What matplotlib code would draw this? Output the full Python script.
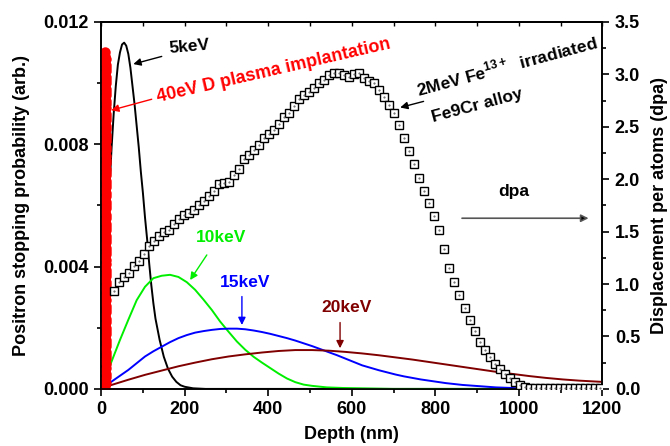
import numpy as np
import matplotlib
matplotlib.use("Agg")
import matplotlib.pyplot as plt
from matplotlib.ticker import MultipleLocator

plt.rcParams['font.family'] = ['Liberation Sans', 'DejaVu Sans']
plt.rcParams['font.weight'] = 'bold'
plt.rcParams['mathtext.fontset'] = 'custom'
plt.rcParams['mathtext.rm'] = 'Liberation Sans:bold'

# ---------------- data ----------------
d5 = [0, 5, 10, 15, 20, 25, 30, 35, 40, 45, 50, 55, 60, 65, 70, 75, 80, 85, 90, 95,
      100, 105, 110, 115, 120, 125, 130, 140, 150, 160, 170, 180, 190, 200, 220, 250, 1200]
p5 = [0.0, 0.0018, 0.0035, 0.0051, 0.0066, 0.0079, 0.0090, 0.0099, 0.0106, 0.0110,
      0.01126, 0.01132, 0.01122, 0.01095, 0.0105, 0.0099, 0.0093, 0.0086, 0.0079, 0.0071,
      0.0064, 0.0056, 0.0049, 0.0041, 0.0034, 0.0028, 0.0023, 0.0016, 0.00105, 0.00066,
      0.0004, 0.00023, 0.00012, 0.00007, 0.00002, 0.0, 0.0]

d10 = [5, 25, 45, 65, 85, 105, 125, 145, 165, 185, 205, 225, 245, 265, 285, 305, 325,
       345, 365, 385, 405, 425, 445, 465, 485, 505, 540, 580, 620, 700, 1000]
p10 = [0.0002, 0.0009, 0.0016, 0.00226, 0.0029, 0.00334, 0.00362, 0.0037, 0.00373,
       0.00366, 0.00349, 0.00324, 0.00292, 0.00258, 0.0022, 0.00187, 0.00155, 0.00128,
       0.00105, 0.00086, 0.00068, 0.0005, 0.00034, 0.00022, 0.00014, 0.0001, 0.00005,
       0.00003, 0.00002, 0.0, 0.0]

d15 = [5, 25, 45, 65, 85, 105, 125, 145, 165, 185, 205, 225, 245, 265, 285, 305, 325,
       345, 365, 385, 405, 425, 445, 465, 485, 505, 525, 545, 565, 585, 605, 625, 645,
       665, 685, 705, 725, 745, 765, 785, 805, 825, 845, 865, 885, 905, 925, 945, 965,
       985, 1000]
p15 = [0.00005, 0.00024, 0.00043, 0.00062, 0.00084, 0.00106, 0.00123, 0.00138, 0.00153,
       0.00166, 0.00176, 0.00184, 0.00189, 0.00193, 0.00196, 0.00197, 0.00197, 0.00195,
       0.00191, 0.00186, 0.0018, 0.00173, 0.00166, 0.00158, 0.00149, 0.0014, 0.0013,
       0.0012, 0.0011, 0.00099, 0.00088, 0.00077, 0.00069, 0.00061, 0.00054, 0.00047,
       0.00041, 0.00036, 0.00031, 0.00027, 0.00023, 0.00019, 0.00016, 0.00013, 0.00011,
       0.00009, 0.00007, 0.00005, 0.00004, 0.00003, 0.00002]

d20 = [5, 25, 65, 105, 145, 185, 225, 265, 305, 345, 385, 425, 465, 505, 545, 585, 625,
       665, 705, 745, 785, 825, 865, 905, 945, 985, 1025, 1065, 1105, 1145, 1200]
p20 = [0.00003, 0.00013, 0.0003, 0.00046, 0.0006, 0.00074, 0.00086, 0.00097, 0.00106,
       0.00113, 0.00119, 0.00124, 0.00127, 0.00127, 0.00125, 0.00121, 0.00116, 0.0011,
       0.00103, 0.00096, 0.00088, 0.0008, 0.00072, 0.00064, 0.00056, 0.00049, 0.00042,
       0.00036, 0.00031, 0.00027, 0.00023]

# 40 eV D plasma implantation profile (red, dense overlapping markers)
red_depth = [10, 11, 10, 12, 11, 10, 11, 12, 10, 11,
             12, 11, 10, 11, 12, 11, 10, 11, 12, 11,
             10, 11, 12, 10, 11, 12, 11, 10, 11, 10,
             12, 11, 10, 11, 12, 10, 11, 12, 11, 10,
             11, 12, 10, 11, 11, 12, 10, 11, 12, 11,
             10, 11, 12, 11, 10, 12, 11, 10, 11, 12,
             11, 10, 11, 12, 10, 11, 12, 11, 10, 11,
             12, 11, 10, 11, 12, 11, 10, 12, 11, 10,
             11, 12, 11, 10, 11, 12, 10, 11, 12, 11,
             10, 11, 12, 11, 10, 11, 12, 11, 10, 11,
             12, 11, 10, 11, 12, 11, 10, 11, 10, 10]
red_prob = [0.0001, 0.0002, 0.0003, 0.0004, 0.0005, 0.0006, 0.0007, 0.0008, 0.0009, 0.0010,
            0.0011, 0.0012, 0.0013, 0.0014, 0.0015, 0.0016, 0.0017, 0.0018, 0.0019, 0.0020,
            0.0021, 0.0022, 0.0023, 0.0024, 0.0025, 0.0026, 0.0027, 0.0028, 0.0029, 0.0030,
            0.0031, 0.0032, 0.0033, 0.0034, 0.0035, 0.0036, 0.0037, 0.0038, 0.0039, 0.0040,
            0.0041, 0.0042, 0.0043, 0.0044, 0.0045, 0.0046, 0.0047, 0.0048, 0.0049, 0.0050,
            0.0051, 0.0052, 0.0053, 0.0054, 0.0055, 0.0056, 0.0057, 0.0058, 0.0059, 0.0060,
            0.0061, 0.0062, 0.0063, 0.0064, 0.0065, 0.0066, 0.0067, 0.0068, 0.0069, 0.0070,
            0.0071, 0.0072, 0.0073, 0.0074, 0.0075, 0.0076, 0.0077, 0.0078, 0.0079, 0.0080,
            0.0081, 0.0082, 0.0083, 0.0084, 0.0085, 0.0086, 0.0087, 0.0088, 0.0089, 0.0090,
            0.0091, 0.0092, 0.0093, 0.0094, 0.0095, 0.0096, 0.0097, 0.0098, 0.0099, 0.0100,
            0.0101, 0.0102, 0.0103, 0.0104, 0.0105, 0.0106, 0.0107, 0.0108, 0.0109, 0.0110]

# dpa profile (right axis)
dpa_depth = list(range(30, 1200, 12))
dpa = [0.93, 1.02, 1.07, 1.11, 1.17, 1.22, 1.29, 1.36, 1.41, 1.46, 1.50, 1.52, 1.57,
       1.62, 1.66, 1.68, 1.71, 1.75, 1.79, 1.84, 1.89, 1.95, 1.96, 1.97, 2.04, 2.10,
       2.19, 2.23, 2.28, 2.33, 2.39, 2.43, 2.47, 2.53, 2.59, 2.63, 2.70, 2.76, 2.80,
       2.83, 2.87, 2.92, 2.95, 2.99, 3.01, 3.01, 2.99, 2.97, 3.00, 3.01, 2.96, 2.94,
       2.92, 2.85, 2.78, 2.71, 2.63, 2.52, 2.39, 2.27, 2.14, 2.01, 1.89, 1.77, 1.65,
       1.52, 1.33, 1.15, 1.02, 0.90, 0.77, 0.66, 0.55, 0.45, 0.37, 0.30, 0.24, 0.19,
       0.14, 0.10, 0.07, 0.04, 0.02,
       0.01, 0.01, 0.01, 0.01, 0.01, 0.01, 0.01, 0.01, 0.01, 0.01, 0.01, 0.01, 0.01,
       0.01, 0.01]

xticks = [0, 200, 400, 600, 800, 1000, 1200]
yticks_left = [0.000, 0.004, 0.008, 0.012]
yticks_right = [0.0, 0.5, 1.0, 1.5, 2.0, 2.5, 3.0, 3.5]

# ---------------- figure ----------------
fig = plt.figure(figsize=(6.7, 4.46), dpi=100)
ax = fig.add_axes([0.151, 0.128, 0.748, 0.823])
ax2 = ax.twinx()

FS = 13
lw = 1.4
ax.plot(d5, p5, color='black', lw=lw, zorder=3)
ax.plot(d10, p10, color='#00ee00', lw=lw, zorder=3)
ax.plot(d15, p15, color='#0000ff', lw=lw, zorder=3)
ax.plot(d20, p20, color='#800000', lw=lw, zorder=3)
ax.plot(red_depth, red_prob, 'o', color='#ff0000', ms=7.5, mew=0, zorder=5)

ax2.plot(dpa_depth, dpa, 's', ms=5.2, mfc='white', mec='black', mew=1.0, zorder=4)
ax2.plot(dpa_depth, dpa, '.', ms=1.0, color='#555555', zorder=5)

ax.set_xlim(0, 1200)
ax.set_ylim(0, 0.012)
ax2.set_ylim(0, 3.5)

ax.set_xticks(xticks)
ax.set_yticks(yticks_left)
ax.set_yticklabels([f"{v:.3f}" for v in yticks_left])
ax2.set_yticks(yticks_right)
ax2.set_yticklabels([f"{v:.1f}" for v in yticks_right])
ax.xaxis.set_minor_locator(MultipleLocator(100))
ax.yaxis.set_minor_locator(MultipleLocator(0.002))
ax2.yaxis.set_minor_locator(MultipleLocator(0.25))

for a in (ax, ax2):
    for s in a.spines.values():
        s.set_linewidth(1.2)
ax.tick_params(axis='both', which='major', direction='out', length=5, width=1.2,
               labelsize=FS, pad=4)
ax.tick_params(axis='both', which='minor', direction='out', length=3, width=1.2)
ax2.tick_params(axis='y', which='major', direction='out', length=5, width=1.2,
                labelsize=FS, pad=4)
ax2.tick_params(axis='y', which='minor', direction='out', length=3, width=1.2)
for lab in ax.get_xticklabels() + ax.get_yticklabels() + ax2.get_yticklabels():
    lab.set_fontweight('bold')

sec = ax.secondary_xaxis('top')
sec.xaxis.set_major_locator(MultipleLocator(100))
sec.tick_params(direction='in', length=3, width=1.0, labeltop=False)
sec.spines['top'].set_linewidth(1.2)

ax.set_xlabel('Depth (nm)', fontsize=FS, fontweight='bold', va='center')
ax.xaxis.set_label_coords(0.5, -0.123)
ax.set_ylabel('Positron stopping probability (arb.)', fontsize=FS, fontweight='bold',
              va='center')
ax.yaxis.set_label_coords(-0.158, 0.5)
ax2.set_ylabel('Displacement per atoms (dpa)', fontsize=FS, fontweight='bold',
               va='center', rotation=90)
ax2.yaxis.set_label_coords(1.114, 0.5)

# ---------------- annotations ----------------
def arrow(xy_from, xy_to, color, lw=1.0):
    ax.annotate('', xy=xy_to, xytext=xy_from,
                arrowprops=dict(arrowstyle='-|>', color=color, lw=lw,
                                mutation_scale=11, shrinkA=0, shrinkB=0),
                zorder=6)

def label(x, y, s, color, rot=0, fs=12.5):
    ax.text(x, y, s, color=color, fontsize=fs, fontweight='bold', rotation=rot,
            ha='center', va='center', rotation_mode='anchor', zorder=6)

label(212, 0.01118, '5keV', 'black', rot=5)
arrow((145, 0.01087), (77, 0.01062), 'black')

label(414, 0.01040, '40eV D plasma implantation', 'red', rot=13, fs=13)
arrow((121, 0.00947), (24, 0.00911), 'red')

label(970, 0.01059, r'2MeV Fe$^{13+}$  irradiated', 'black', rot=15, fs=12.5)
label(900, 0.00925, 'Fe9Cr alloy', 'black', rot=15, fs=12.5)
arrow((772, 0.0094), (716, 0.0092), 'black')

label(287, 0.00494, '10keV', '#00ee00')
arrow((253, 0.00438), (213, 0.00356), '#00ee00')

label(345, 0.00347, '15keV', '#0000ff')
arrow((337, 0.00302), (337, 0.00209), '#0000ff')

label(587, 0.00265, '20keV', '#800000')
arrow((572, 0.00217), (572, 0.00133), '#800000')

label(989, 0.00644, 'dpa', 'black', fs=12.5)
ax.annotate('', xy=(1167, 0.00558), xytext=(864, 0.00558),
            arrowprops=dict(arrowstyle='-|>', color='#555555', lw=1.2,
                            mutation_scale=11, shrinkA=0, shrinkB=0,
                            fc='black'), zorder=6)

fig.savefig('out.png', dpi=100)
